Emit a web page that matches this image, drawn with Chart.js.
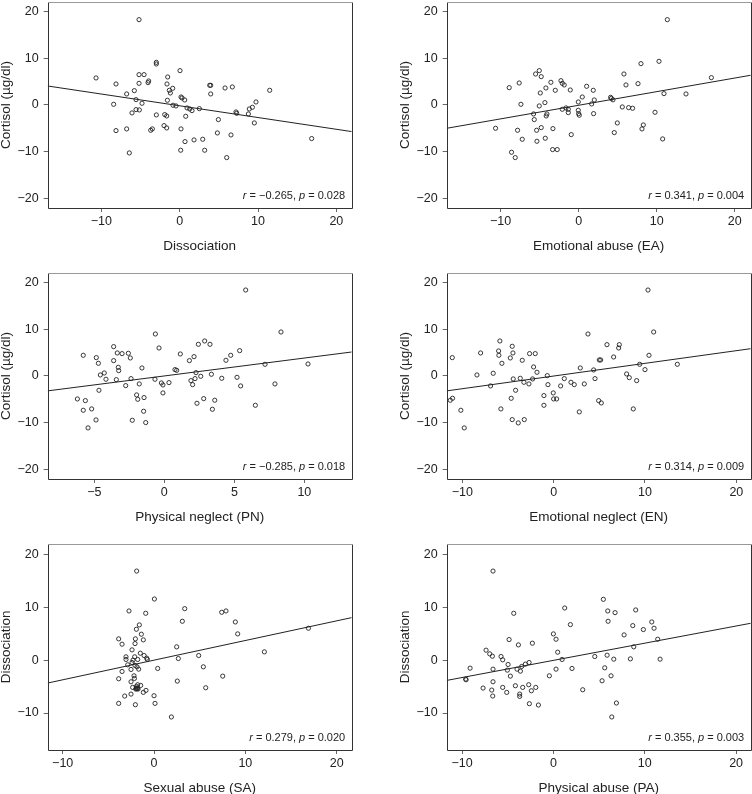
<!DOCTYPE html>
<html>
<head>
<meta charset="utf-8">
<title>Cortisol / dissociation / childhood trauma scatter plots</title>
<script src="https://cdn.jsdelivr.net/npm/chart.js@4.4.1/dist/chart.umd.min.js"></script>
<style>
  html, body { margin: 0; padding: 0; background: #fff; width: 752px; height: 794px; overflow: hidden; position: relative; }
  .panel { position: absolute; width: 376px; height: 265px; }
</style>
</head>
<body>
<div class="panel" style="left:0px;top:-3px"><canvas id="panel1" width="376" height="265"></canvas></div>
<div class="panel" style="left:399px;top:-3px"><canvas id="panel2" width="376" height="265"></canvas></div>
<div class="panel" style="left:0px;top:268px"><canvas id="panel3" width="376" height="265"></canvas></div>
<div class="panel" style="left:399px;top:268px"><canvas id="panel4" width="376" height="265"></canvas></div>
<div class="panel" style="left:0px;top:539px"><canvas id="panel5" width="376" height="265"></canvas></div>
<div class="panel" style="left:399px;top:539px"><canvas id="panel6" width="376" height="265"></canvas></div>

<script>
// Data: [x, y] per subject
const dissocVsCortisol = [[-5.19,18.29],[-2.98,9.14],[-2.98,8.79],[0.04,7.36],[-5.19,6.5],[-4.55,6.5],[-10.68,5.79],[-1.53,6.0],[-3.96,5.14],[-4.04,4.79],[-8.13,4.5],[-5.19,4.64],[-1.62,4.5],[3.83,4.21],[3.96,4.21],[5.79,3.64],[6.72,3.86],[11.49,3.14],[-0.89,3.57],[-1.32,3.14],[-1.19,2.57],[-5.79,3.07],[-6.77,2.36],[3.96,2.36],[0.17,1.71],[0.3,1.5],[0.64,1.07],[-5.57,1.14],[-1.57,1.0],[9.74,0.64],[-4.81,0.36],[-8.43,0.14],[-0.85,-0.07],[-0.47,-0.21],[9.28,-0.5],[8.89,-0.86],[0.94,-0.64],[1.28,-0.86],[2.51,-0.79],[1.57,-1.21],[-5.57,-1.0],[-5.15,-1.07],[-6.09,-1.71],[7.19,-1.5],[7.28,-1.79],[8.77,-1.93],[-2.98,-2.14],[-1.91,-2.07],[-1.66,-2.36],[0.77,-2.43],[4.94,-3.14],[9.53,-3.86],[-2.0,-4.43],[-1.66,-4.93],[-6.77,-5.14],[-3.49,-5.14],[-3.7,-5.43],[0.17,-5.14],[-8.13,-5.5],[4.81,-6.0],[6.55,-6.43],[16.85,-7.21],[1.83,-7.5],[2.94,-7.36],[0.68,-7.86],[0.13,-9.71],[3.19,-9.71],[-6.43,-10.29],[6.0,-11.29]];

const eaVsCortisol = [[11.37,18.29],[7.99,8.86],[10.3,9.36],[17.01,5.86],[5.81,6.64],[6.07,4.29],[7.61,4.57],[10.94,2.43],[13.76,2.36],[-5.51,6.64],[-5.04,7.36],[-4.79,6.07],[-7.61,4.71],[-8.89,3.71],[-3.55,4.86],[-4.19,3.64],[-4.91,2.57],[-2.99,3.14],[-2.26,5.21],[-2.09,4.64],[-1.84,4.29],[-1.07,3.21],[1.03,4.0],[1.88,3.14],[0.47,1.71],[2.01,1.07],[-0.04,0.64],[1.67,0.21],[4.1,1.64],[4.2,1.4],[4.4,1.1],[-7.39,0.14],[-4.32,0.5],[-5.04,-0.21],[5.6,-0.43],[6.41,-0.57],[6.92,-0.71],[9.79,-1.57],[-1.62,-0.64],[-2.09,-0.93],[-1.32,-0.93],[-1.32,-1.64],[-0.04,-1.14],[0,-1.86],[0.09,-2.21],[1.92,-1.86],[-5.77,-1.93],[-5.68,-3.14],[-4.06,-1.93],[-4.15,-2.36],[-10.64,-5.0],[-7.82,-5.43],[-7.22,-7.36],[-5.38,-5.43],[-4.79,-4.86],[-5.34,-7.79],[-4.27,-7.14],[-3.29,-5.07],[-0.94,-6.36],[-3.33,-9.57],[-2.74,-9.57],[-8.59,-10.14],[-8.12,-11.29],[4.96,-3.86],[4.57,-5.93],[8.29,-4.29],[8.12,-5.14],[10.77,-7.29]];

const pnVsCortisol = [[5.81,18.43],[8.33,9.43],[-0.64,9.0],[-0.38,6.0],[2.43,6.79],[2.88,7.5],[3.26,6.79],[1.14,4.71],[2.12,4.14],[4.74,4.43],[5.38,5.43],[4.4,3.36],[1.79,3.29],[7.19,2.5],[10.26,2.57],[-3.62,6.29],[-3.36,4.93],[-3.02,4.79],[-2.57,4.86],[-2.43,3.86],[-3.62,3.29],[-3.29,1.86],[-3.26,1.14],[-1.6,1.71],[-5.79,4.43],[-4.86,3.93],[-4.71,2.71],[-4.29,0.64],[-4.57,0.21],[-4.17,-0.71],[-3.43,-0.79],[-2.38,-0.57],[-2.76,-2.07],[-1.79,-1.71],[-4.67,-3.07],[-0.67,-0.71],[-0.21,-1.5],[-0.1,-1.93],[0.33,-1.43],[-0.1,-3.64],[0.76,1.36],[0.88,1.21],[2.26,0.71],[2.6,-0.07],[3.36,0.36],[1.9,-1.0],[2.02,-1.86],[2.19,-0.57],[4.1,-0.5],[5.19,-0.29],[5.45,-2.14],[7.9,-1.71],[-1.98,-4.07],[-1.9,-5.0],[-1.45,-4.64],[-1.48,-7.57],[-1.33,-10.0],[-2.29,-9.5],[-6.21,-4.93],[-5.64,-5.29],[-5.79,-7.36],[-5.19,-7.07],[-4.88,-9.43],[-5.45,-11.14],[2.33,-5.86],[2.81,-4.86],[3.6,-5.21],[3.43,-7.14],[6.5,-6.29]];

const enVsCortisol = [[10.33,18.43],[10.95,9.43],[3.76,9.0],[5.84,6.71],[7.19,6.71],[7.12,6.0],[6.57,4.07],[5.0,3.43],[5.15,3.43],[10.44,4.43],[9.42,2.5],[13.54,2.5],[10.0,1.36],[2.92,1.71],[4.38,1.29],[7.99,0.43],[8.28,-0.36],[9.09,-1.0],[4.53,-0.57],[3.36,-1.71],[1.17,-0.57],[1.9,-1.36],[2.26,-1.86],[0.77,-2.14],[-0.62,-1.86],[-0.69,0.07],[-0.04,-3.64],[0,-4.93],[0.33,-4.93],[-1.06,-4.21],[-1.06,-6.29],[2.81,-7.71],[4.93,-5.29],[5.22,-5.79],[8.72,-7.07],[-5.88,7.5],[-6.02,5.36],[-5.99,4.43],[-4.53,6.36],[-4.45,4.93],[-4.74,3.86],[-5.66,2.71],[-7.99,4.93],[-11.09,3.93],[-3.43,3.36],[-2.63,4.79],[-2.01,4.79],[-2.19,1.93],[-1.82,0.79],[-8.39,0.21],[-6.61,0.57],[-6.9,-2.14],[-4.42,-0.64],[-3.65,-0.5],[-3.25,-1.36],[-2.7,-1.71],[-2.3,-0.64],[-4.16,-3.07],[-4.64,-4.79],[-5.77,-7.07],[-4.53,-9.36],[-3.87,-10.07],[-3.21,-9.36],[-11.31,-5.21],[-11.06,-4.79],[-10.15,-7.36],[-9.78,-11.14]];

const saVsDissoc = [[-1.9,16.86],[0.04,11.57],[-2.74,9.31],[-0.91,8.87],[3.36,9.75],[7.41,9.06],[7.88,9.31],[3.1,7.36],[8.9,7.23],[9.16,4.97],[16.9,6.04],[12.08,1.57],[2.48,2.52],[4.89,0.88],[2.66,0.31],[5.4,-1.26],[0.4,-1.57],[7.52,-3.02],[2.55,-3.96],[5.66,-5.22],[1.9,-10.75],[0,-6.73],[0.11,-8.18],[-1.61,6.67],[-1.93,5.85],[-1.39,4.91],[-2.04,4.03],[-1.17,3.84],[-2.08,3.14],[-3.87,4.03],[-3.5,3.02],[-2.41,1.95],[-1.5,1.32],[-1.09,0.88],[-0.8,0.38],[-0.73,0.13],[-3.07,0.63],[-3.07,0.13],[-2.12,0.63],[-2.3,0],[-1.79,0.13],[-2.88,-0.88],[-2.41,-0.44],[-2.08,-1.0],[-2.52,-1.76],[-1.86,-1.26],[-1.68,-1.7],[-3.5,-2.14],[-2.19,-2.96],[-2.15,-3.46],[-3.87,-3.52],[-2.52,-4.09],[-2.34,-5.16],[-1.93,-4.97],[-1.86,-5.41],[-1.75,-5.47],[-2.0,-5.47],[-1.8,-5.3],[-1.95,-5.35],[-1.46,-4.78],[-1.79,-4.65],[-0.88,-5.72],[-1.17,-6.1],[-2.52,-6.42],[-3.21,-6.79],[-3.87,-8.18],[-2.04,-8.43]];

const paVsDissoc = [[-6.61,16.86],[-4.34,8.87],[1.24,9.87],[1.86,6.73],[5.47,11.51],[5.95,9.31],[6.75,8.99],[9.01,9.5],[5.99,7.36],[8.69,6.54],[10.77,7.23],[11.02,6.04],[9.85,5.79],[7.74,4.78],[11.42,3.96],[8.8,2.52],[11.68,0.19],[8.43,0.25],[6.61,0.19],[5.88,0.94],[4.53,0.69],[5.62,-1.45],[6.31,-2.96],[5.33,-3.9],[6.9,-8.11],[6.39,-10.75],[0,4.97],[0.29,3.96],[0.47,1.51],[0.95,0.13],[0.29,-1.7],[2.04,-1.57],[-0.44,-2.96],[3.21,-5.6],[-4.85,3.9],[-3.83,2.89],[-2.3,3.21],[-7.37,1.89],[-6.97,1.19],[-6.68,0.75],[-5.73,0.69],[-5.55,0.06],[-4.96,-0.82],[-2.66,-0.44],[-3.07,-0.75],[-3.47,-1.19],[-3.98,-1.7],[-3.61,-2.08],[-5.04,-1.89],[-4.71,-3.02],[-9.12,-1.51],[-9.6,-3.58],[-9.56,-3.71],[-6.61,-1.7],[-6.61,-4.09],[-7.7,-5.28],[-6.75,-5.66],[-5.55,-5.16],[-5.11,-6.1],[-6.64,-6.79],[-4.16,-4.84],[-3.36,-5.16],[-3.69,-6.42],[-3.69,-6.86],[-2.7,-4.65],[-2.41,-5.79],[-1.93,-5.16],[-2.63,-8.24],[-1.64,-8.49]];

// Per-panel labels and stats
const xTitles = ["Dissociation", "Emotional abuse (EA)", "Physical neglect (PN)", "Emotional neglect (EN)", "Sexual abuse (SA)", "Physical abuse (PA)"];
const yTitles = ["Cortisol (\u00b5g/dl)", "Cortisol (\u00b5g/dl)", "Cortisol (\u00b5g/dl)", "Cortisol (\u00b5g/dl)", "Dissociation", "Dissociation"];
const rValues = ["\u22120.265", "0.341", "\u22120.285", "0.314", "0.279", "0.355"];
const pValues = ["0.028", "0.004", "0.018", "0.009", "0.020", "0.003"];

// Fitted regression lines (slope, intercept)
const fitSlopes = [-0.252, 0.292, 0.384, 0.272, 0.372, 0.325];
const fitIntercepts = [-0.18, -0.07, 0.0, -0.02, 0.0, -0.04];

// Axis ranges and tick values
const xRanges = [[-16.85, 21.96], [-16.9, 22.05], [-8.33, 13.38], [-11.7, 21.57], [-11.64, 21.64], [-11.68, 21.6]];
const yRanges = [[-22.1, 22.1], [-22.1, 22.1], [-22.1, 22.1], [-22.1, 22.1], [-17.0, 22.0], [-17.0, 22.0]];
const xTickValues = [[-10, 0, 10, 20], [-10, 0, 10, 20], [-5, 0, 5, 10], [-10, 0, 10, 20], [-10, 0, 10, 20], [-10, 0, 10, 20]];
const yTickValues = [[-20, -10, 0, 10, 20], [-20, -10, 0, 10, 20], [-20, -10, 0, 10, 20], [-20, -10, 0, 10, 20], [-10, 0, 10, 20], [-10, 0, 10, 20]];

const panelData = [dissocVsCortisol, eaVsCortisol, pnVsCortisol, enVsCortisol, saVsDissoc, paVsDissoc];

var FONT = '"Liberation Sans", Arial, Helvetica, sans-serif';
var charts = [];

function fmtTick(v) {
    return v < 0 ? "\u2212" + Math.abs(v) : String(v);
}

// box around the plot: grey top, dark other sides
var framePlugin = {
    id: "frame",
    afterDatasetsDraw: function (chart) {
        var a = chart.chartArea, ctx = chart.ctx;
        var l = Math.round(a.left) + 0.5, r = Math.round(a.right) + 0.5;
        var t = Math.round(a.top) + 0.5, b = Math.round(a.bottom) + 0.5;
        ctx.save();
        ctx.lineWidth = 1;
        ctx.strokeStyle = "#333";
        ctx.beginPath();
        ctx.moveTo(l, t);
        ctx.lineTo(l, b);
        ctx.lineTo(r, b);
        ctx.lineTo(r, t);
        ctx.stroke();
        ctx.strokeStyle = "#999";
        ctx.beginPath();
        ctx.moveTo(l, t);
        ctx.lineTo(r, t);
        ctx.stroke();
        ctx.restore();
    }
};

// "r = ..., p = ..." with italic r and p, bottom right of the plot
var statPlugin = {
    id: "statText",
    afterDraw: function (chart, args, opts) {
        var a = chart.chartArea, ctx = chart.ctx;
        var parts = [
            ["r", true],
            [" = " + opts.r + ", ", false],
            ["p", true],
            [" = " + opts.p, false]
        ];
        ctx.save();
        ctx.fillStyle = "#222";
        ctx.textBaseline = "middle";
        ctx.textAlign = "left";
        var total = 0;
        parts.forEach(function (pt) {
            ctx.font = (pt[1] ? "italic " : "") + "11px " + FONT;
            total += ctx.measureText(pt[0]).width;
        });
        var x = a.right - 6.5 - total;
        var y = a.bottom - 12;
        parts.forEach(function (pt) {
            ctx.font = (pt[1] ? "italic " : "") + "11px " + FONT;
            ctx.fillText(pt[0], x, y);
            x += ctx.measureText(pt[0]).width;
        });
        ctx.restore();
    }
};

function buildPanel(i) {
    var canvas = document.getElementById("panel" + (i + 1));
    if (!canvas) {
        console.error("Canvas not found for panel " + (i + 1));
        return;
    }
    var pts = panelData[i].map(function (d) { return { x: d[0], y: d[1] }; });
    var xr = xRanges[i], yr = yRanges[i];
    var fitLine = [
        { x: xr[0], y: fitIntercepts[i] + fitSlopes[i] * xr[0] },
        { x: xr[1], y: fitIntercepts[i] + fitSlopes[i] * xr[1] }
    ];

    var chart = new Chart(canvas.getContext("2d"), {
        type: "scatter",
        data: {
            datasets: [{
                data: pts,
                pointStyle: "circle",
                pointRadius: 2.1,
                pointBorderWidth: 0.9,
                borderColor: "#222",
                backgroundColor: "rgba(0,0,0,0)"
            }, {
                type: "line",
                data: fitLine,
                borderColor: "#222",
                borderWidth: 1,
                pointRadius: 0,
                fill: false
            }]
        },
        options: {
            responsive: false,
            animation: false,
            events: [],
            // chart area ends up at top 5 .. bottom 211 (206 px tall) inside the canvas
            layout: { padding: { left: 0, top: 2, right: 24.3, bottom: 0 } },
            plugins: {
                legend: { display: false },
                tooltip: { enabled: false },
                statText: { r: rValues[i], p: pValues[i] }
            },
            scales: {
                x: {
                    type: "linear",
                    min: xr[0],
                    max: xr[1],
                    afterBuildTicks: function (s) { s.ticks = xTickValues[i].map(function (v) { return { value: v }; }); },
                    afterFit: function (s) { s.height = 54; s.paddingLeft = 0; s.paddingRight = 0; },
                    grid: { drawOnChartArea: false, drawTicks: true, tickLength: 4, color: "#666" },
                    border: { display: false },
                    ticks: {
                        padding: 2,
                        color: "#222",
                        maxRotation: 0,
                        font: { family: FONT, size: 12.5 },
                        callback: function (v) { return fmtTick(v); }
                    },
                    title: {
                        display: true,
                        text: xTitles[i],
                        color: "#222",
                        padding: { top: 0, bottom: 8.5 },
                        font: { family: FONT, size: 13.5, lineHeight: 1 }
                    }
                },
                y: {
                    type: "linear",
                    min: yr[0],
                    max: yr[1],
                    afterBuildTicks: function (s) { s.ticks = yTickValues[i].map(function (v) { return { value: v }; }); },
                    afterFit: function (s) { s.width = 47.7; s.paddingTop = 0; s.paddingBottom = 0; },
                    grid: { drawOnChartArea: false, drawTicks: true, tickLength: 4, color: "#666" },
                    border: { display: false },
                    ticks: {
                        padding: 5,
                        color: "#222",
                        font: { family: FONT, size: 12.5 },
                        callback: function (v) { return fmtTick(v); }
                    },
                    title: {
                        display: true,
                        text: yTitles[i],
                        color: "#222",
                        padding: { top: 0, bottom: 0 },
                        font: { family: FONT, size: 13.5, lineHeight: 1 }
                    }
                }
            }
        },
        plugins: [framePlugin, statPlugin]
    });
    charts.push(chart);
}

document.addEventListener("DOMContentLoaded", function () {
    if (typeof Chart === "undefined") {
        console.error("Chart.js failed to load!");
        return;
    }
    for (var i = 0; i < 6; i++) {
        buildPanel(i);
    }
});
</script>
</body>
</html>
